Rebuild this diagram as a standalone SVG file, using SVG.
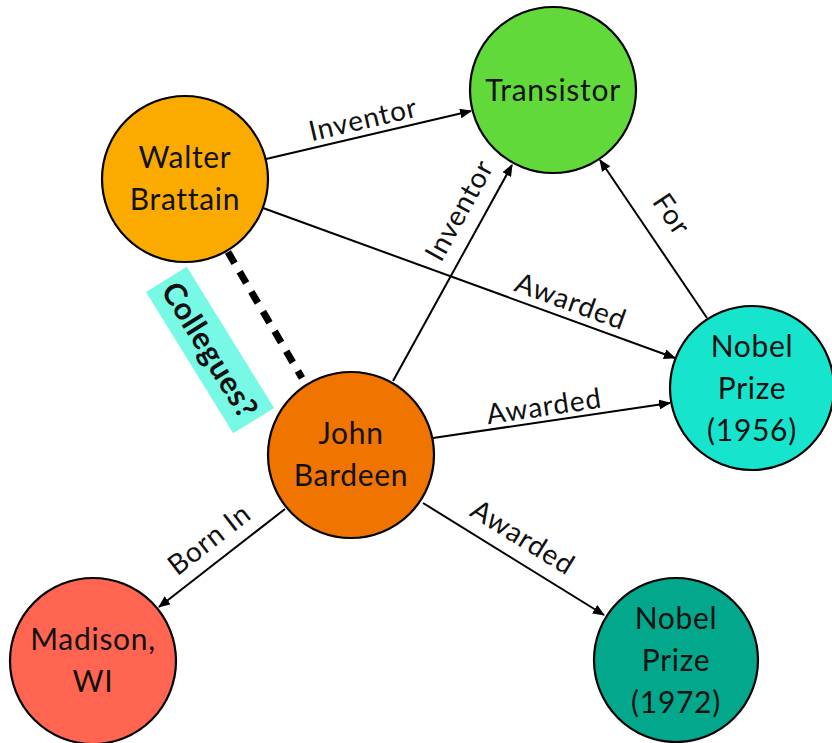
<svg xmlns="http://www.w3.org/2000/svg" width="832" height="743" viewBox="0 0 832 743">
  <style>
    .node circle { stroke: #000; stroke-width: 2.2; }
    .node text { font-family: Lato, "Open Sans", sans-serif; font-size: 30px; letter-spacing: 0.7px; fill: #111; text-anchor: middle; }
    .edge { stroke: #000; stroke-width: 2; fill: none; marker-end: url(#arrow); }
    .elabel { font-family: Lato, "Open Sans", sans-serif; font-size: 28px; letter-spacing: 0.9px; fill: #111; text-anchor: middle; }
    .dash { stroke: #000; stroke-width: 7; stroke-dasharray: 13 10; fill: none; }
    .tag { fill: #78f9e6; }
    .tagtext { font-family: Lato, "Open Sans", sans-serif; font-size: 31px; font-weight: bold; letter-spacing: 0.6px; fill: #111; text-anchor: middle; }
  </style>
  <defs>
    <marker id="arrow" viewBox="0 0 12 10" refX="11" refY="5" markerWidth="12" markerHeight="10" markerUnits="userSpaceOnUse" orient="auto">
      <path d="M0,0 L12,5 L0,10 z" fill="#000"/>
    </marker>
  </defs>

  <rect width="832" height="743" fill="#fff"/>

  <!-- connectors -->
  <g id="connectors">
    <line class="dash" x1="228" y1="252" x2="302" y2="378"/>
    <line class="edge" x1="266" y1="159" x2="471" y2="111"/>
    <line class="edge" x1="263" y1="208" x2="675" y2="358"/>
    <line class="edge" x1="393" y1="381" x2="512" y2="165"/>
    <line class="edge" x1="707" y1="318" x2="600" y2="160"/>
    <line class="edge" x1="433" y1="438" x2="670" y2="403"/>
    <line class="edge" x1="285" y1="509" x2="159" y2="607"/>
    <line class="edge" x1="423" y1="503" x2="604" y2="615"/>

    <text class="elabel" transform="translate(363,119) rotate(-13.2)" y="10">Inventor</text>
    <text class="elabel" transform="translate(571,301) rotate(20)" y="10">Awarded</text>
    <text class="elabel" transform="translate(459,210) rotate(-61.1)" y="10">Inventor</text>
    <text class="elabel" transform="translate(672,214) rotate(55.9)" y="10">For</text>
    <text class="elabel" transform="translate(544,406) rotate(-8.4)" y="10">Awarded</text>
    <text class="elabel" transform="translate(209,539) rotate(-37.9)" y="10">Born In</text>
    <text class="elabel" transform="translate(523,537) rotate(31.7)" y="10">Awarded</text>

    <g transform="translate(210,350) rotate(58.3)">
      <rect class="tag" x="-83" y="-24" width="166" height="48"/>
      <text class="tagtext" y="11">Collegues?</text>
    </g>
  </g>

  <!-- nodes -->
  <g id="transistor" class="node">
    <circle cx="553" cy="90" r="83" fill="#62d93a"/>
    <text x="553" y="101">Transistor</text>
  </g>
  <g id="walter-brattain" class="node">
    <circle cx="185" cy="179" r="83" fill="#fbab00"/>
    <text x="185" y="168">Walter</text>
    <text x="185" y="210">Brattain</text>
  </g>
  <g id="nobel-1956" class="node">
    <circle cx="752" cy="388" r="82" fill="#16e4cd"/>
    <text x="752" y="357">Nobel</text>
    <text x="752" y="399">Prize</text>
    <text x="752" y="441">(1956)</text>
  </g>
  <g id="john-bardeen" class="node">
    <circle cx="351" cy="455" r="83" fill="#f07400"/>
    <text x="351" y="444">John</text>
    <text x="351" y="486">Bardeen</text>
  </g>
  <g id="madison-wi" class="node">
    <circle cx="93" cy="661" r="83" fill="#ff6550"/>
    <text x="93" y="650">Madison,</text>
    <text x="93" y="692">WI</text>
  </g>
  <g id="nobel-1972" class="node">
    <circle cx="676" cy="660" r="82" fill="#03a88c"/>
    <text x="676" y="629">Nobel</text>
    <text x="676" y="671">Prize</text>
    <text x="676" y="713">(1972)</text>
  </g>
</svg>
